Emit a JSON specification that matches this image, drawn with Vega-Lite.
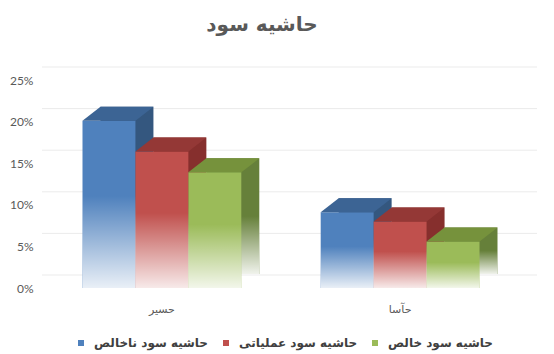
{
  "$schema": "https://vega.github.io/schema/vega-lite/v6.json",
  "width": 478,
  "height": 208,
  "autosize": {"type": "none"},
  "padding": {"left": 42, "top": 80, "right": 34, "bottom": 66},
  "background": "white",
  "title": {"text": "حاشیه سود", "font": "DejaVu Sans", "fontSize": 20, "fontWeight": "bold", "color": "#595959", "anchor": "middle", "dx": -19, "offset": 32},
  "datasets": {
    "margins": [
      {"company": "حسیر", "series": "حاشیه سود ناخالص", "value": 0.201},
      {"company": "حسیر", "series": "حاشیه سود عملیاتی", "value": 0.164},
      {"company": "حسیر", "series": "حاشیه سود خالص", "value": 0.139},
      {"company": "حآسا", "series": "حاشیه سود ناخالص", "value": 0.091},
      {"company": "حآسا", "series": "حاشیه سود عملیاتی", "value": 0.080},
      {"company": "حآسا", "series": "حاشیه سود خالص", "value": 0.056}
    ],
    "grid": [{"v": 0}, {"v": 0.05}, {"v": 0.1}, {"v": 0.15}, {"v": 0.2}, {"v": 0.25}]
  },
  "config": {
    "view": {"stroke": null},
    "axisY": {"labelFont": "Lato", "labelFontSize": 12, "labelColor": "#595959", "domain": false, "ticks": false, "labelPadding": 9, "grid": false},
    "axisX": {"labelFont": "DejaVu Sans", "labelFontSize": 11, "labelColor": "#595959", "domain": false, "ticks": false, "labelPadding": 15, "labelAngle": 0, "grid": false}
  },
  "resolve": {"scale": {"x": "independent", "y": "independent", "xOffset": "independent", "color": "independent"}, "axis": {"x": "independent", "y": "independent"}},
  "layer": [
    {
      "data": {"name": "grid"},
      "mark": {"type": "rule", "color": "#ebebeb", "strokeWidth": 1, "xOffset": 17, "x2Offset": 17, "yOffset": -13},
      "encoding": {
        "y": {"field": "v", "type": "quantitative", "title": null, "scale": {"domain": [0, 0.25]}, "axis": {"format": ".0%", "values": [0, 0.05, 0.1, 0.15, 0.2, 0.25]}}
      }
    },
    {
      "data": {"name": "margins"},
      "encoding": {
        "x": {"field": "company", "type": "nominal", "title": null, "sort": ["حسیر", "حآسا"], "axis": null, "scale": {"paddingInner": 0.3333, "paddingOuter": 0.17, "range": [18, 496]}},
        "xOffset": {"field": "series", "type": "nominal", "sort": ["حاشیه سود ناخالص", "حاشیه سود عملیاتی", "حاشیه سود خالص"], "scale": {"paddingInner": 0, "paddingOuter": 0}},
        "y": {"field": "value", "type": "quantitative", "title": null, "axis": null, "scale": {"domain": [0, 0.25], "range": [194, -14]}}
      },
      "layer": [
        {
          "mark": {"type": "bar"},
          "encoding": {
            "color": {"field": "series", "type": "nominal", "legend": null, "scale": {"domain": ["حاشیه سود ناخالص", "حاشیه سود عملیاتی", "حاشیه سود خالص"], "range": ["#34577f", "#862f2d", "#66803a"]}}
          }
        },
        {
          "mark": {"type": "bar",
            "fill": {"gradient": "linear", "x1": 0, "y1": 0, "x2": 0, "y2": 1, "stops": [
              {"offset": 0, "color": "rgba(255,255,255,0)"},
              {"offset": 0.5, "color": "rgba(255,255,255,0)"},
              {"offset": 1, "color": "rgba(255,255,255,0.9)"}]}}
        }
      ]
    },
    {
      "data": {"name": "margins"},
      "resolve": {"scale": {"color": "independent"}},
      "encoding": {
        "x": {"field": "company", "type": "nominal", "title": null, "sort": ["حسیر", "حآسا"], "scale": {"paddingInner": 0.3333, "paddingOuter": 0.17}},
        "xOffset": {"field": "series", "type": "nominal", "sort": ["حاشیه سود ناخالص", "حاشیه سود عملیاتی", "حاشیه سود خالص"], "scale": {"paddingInner": 0, "paddingOuter": 0}},
        "y": {"field": "value", "type": "quantitative", "title": null, "axis": null, "scale": {"domain": [0, 0.25]}}
      },
      "layer": [
        {
          "mark": {"type": "bar"},
          "encoding": {
            "color": {"field": "series", "type": "nominal", "scale": {"domain": ["حاشیه سود ناخالص", "حاشیه سود عملیاتی", "حاشیه سود خالص"], "range": ["#4f81bd", "#c0504d", "#9bbb59"]},
              "legend": {"title": null, "orient": "none", "legendX": 33, "legendY": 257, "direction": "horizontal", "symbolType": "square", "symbolSize": 36, "symbolStrokeWidth": 0, "labelFont": "DejaVu Sans", "labelFontSize": 12, "labelFontWeight": "bold", "labelColor": "#404040", "columnPadding": 11, "labelOffset": 7}}
          }
        },
        {
          "mark": {"type": "bar",
            "fill": {"gradient": "linear", "x1": 0, "y1": 0, "x2": 0, "y2": 1, "stops": [
              {"offset": 0, "color": "rgba(255,255,255,0)"},
              {"offset": 0.45, "color": "rgba(255,255,255,0)"},
              {"offset": 1, "color": "rgba(255,255,255,0.88)"}]}}
        },
        {
          "mark": {"type": "point", "shape": "M-0.53,0L0.53,0L0.89,-0.28L-0.17,-0.28Z", "size": 10000, "filled": true, "opacity": 1, "strokeWidth": 0},
          "encoding": {
            "color": {"field": "series", "type": "nominal", "legend": null, "scale": {"domain": ["حاشیه سود ناخالص", "حاشیه سود عملیاتی", "حاشیه سود خالص"], "range": ["#3c6494", "#943836", "#76923c"]}}
          }
        }
      ]
    }
  ]
}
